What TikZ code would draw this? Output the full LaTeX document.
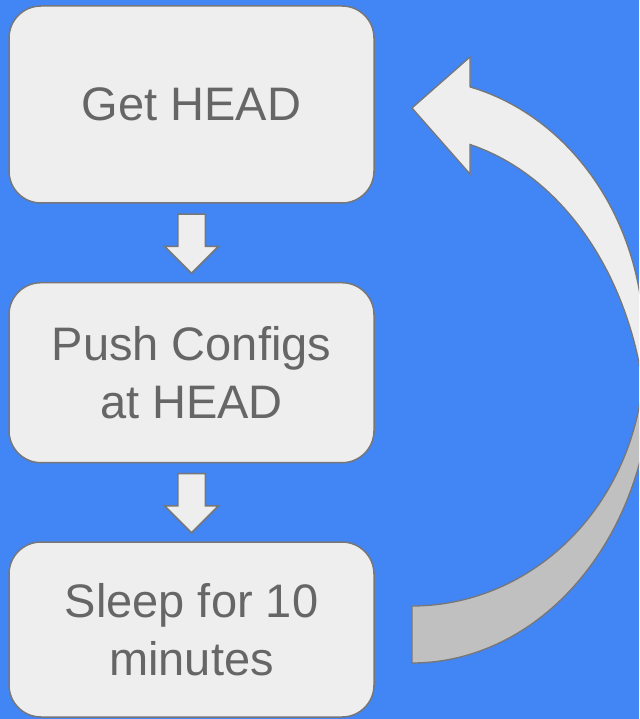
\documentclass[tikz,border=0pt]{standalone}
\usepackage{fontspec}
\setmainfont{Liberation Sans}
\usetikzlibrary{shapes.arrows,calc}

\definecolor{bgblue}{HTML}{4285F4}
\definecolor{boxfill}{HTML}{EEEEEE}
\definecolor{edgegray}{HTML}{777777}
\definecolor{textgray}{HTML}{666666}
\definecolor{backfill}{HTML}{C0C0C0}

\tikzset{
  stepbox/.style={draw=edgegray, line width=1.5pt, fill=boxfill,
    rounded corners=32pt, minimum width=365pt, text=textgray,
    align=center, inner sep=0pt,
    font=\fontsize{47}{57.6}\selectfont},
  downarrow/.style={single arrow, draw=edgegray, line width=1.5pt,
    fill=boxfill, rotate=-90, minimum height=59pt,
    inner xsep=0pt, inner ysep=13pt,
    single arrow head extend=13pt, single arrow head indent=0pt,
    line join=miter},
  frontface/.style={draw=edgegray, line width=1.3pt, fill=boxfill, line join=miter},
  backface/.style={draw=edgegray, line width=1.3pt, fill=backfill},
}

\begin{document}
\begin{tikzpicture}[x=1pt,y=-1pt]
\useasboundingbox (0,0) rectangle (639,719);
\clip (0,0) rectangle (639,719);
\fill[bgblue] (0,0) rectangle (639,719);

% the three steps of the loop
\node[stepbox, minimum height=197pt] (get) at (191.5,104.5) {Get HEAD};
\node[stepbox, minimum height=180pt] (push) at (191.5,372.7) {Push Configs\\at HEAD};
\node[stepbox, minimum height=175pt] (sleep) at (191.5,629.5) {Sleep for 10\\minutes};

% block arrows between the steps
\node[downarrow] (a1) at ($(get.south)!0.5!(push.north)+(0,-6)$) {};
\node[downarrow] (a2) at ($(push.south)!0.5!(sleep.north)+(0,-6)$) {};

% curved return arrow: shaded back face (tail end)
\filldraw[backface]
  plot[domain=90:0, samples=90] ({412+232*cos(\x)},{356+250*sin(\x)})
  -- plot[domain=0:90, samples=90] ({412+240*cos(\x)},{370+293*sin(\x)})
  -- cycle;

% curved return arrow: front face with arrowhead
\filldraw[frontface]
  (470,145) -- (470,174) -- (412,108) -- (470,57) -- (470,87)
  -- plot[domain=-75.52:0, samples=90] ({412+232*cos(\x)},{343.5+265*sin(\x)})
  -- plot[domain=0:-75.71, samples=90] ({412+235*cos(\x)},{442+307*sin(\x)})
  -- cycle;
\end{tikzpicture}
\end{document}
